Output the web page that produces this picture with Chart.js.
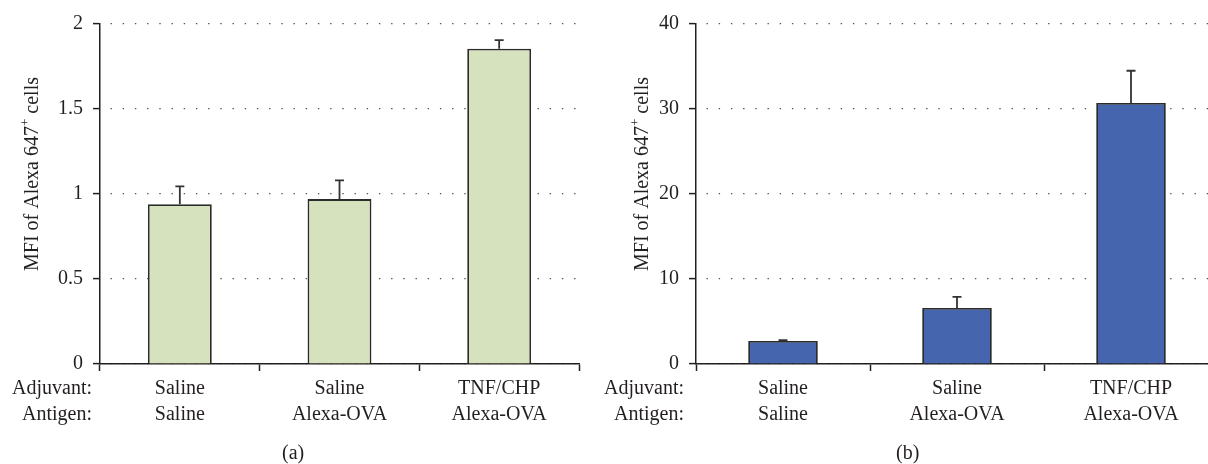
<!DOCTYPE html>
<html>
<head>
<meta charset="utf-8">
<script src="https://cdn.jsdelivr.net/npm/chart.js@4/dist/chart.umd.min.js"></script>
<style>
  html, body { margin: 0; padding: 0; background: #fff; overflow: hidden; width: 1208px; height: 464px; }
  canvas { position: absolute; top: 0; }
  #chartA { left: 0; }
  #chartB { left: 600px; }
  .caption { position: absolute; top: 441px; font: 20px "Liberation Serif", serif; color: #231f20; }
</style>
</head>
<body>
<canvas id="chartA" width="600" height="464"></canvas>
<canvas id="chartB" width="620" height="464"></canvas>
<div class="caption" style="left:282px">(a)</div>
<div class="caption" style="left:896px">(b)</div>
<script>
// categories (two label rows)
const adjuvants = ['Saline', 'Saline', 'TNF/CHP'];
const antigens = ['Saline', 'Alexa-OVA', 'Alexa-OVA'];
const rowNames = ['Adjuvant:', 'Antigen:'];

// panel (a)
const valuesA = [0.94, 0.97, 1.855];
const errorsA = [0.105, 0.11, 0.05];
const ticksA = [0, 0.5, 1, 1.5, 2];

// panel (b)
const valuesB = [2.7, 6.6, 30.7];
const errorsB = [0.12, 1.3, 3.8];
const ticksB = [0, 10, 20, 30, 40];

const INK = '#231f20';
const FONT = '"Liberation Serif", "Times New Roman", serif';
const FS = 20;
const LINE_H = 26;

const labels = adjuvants.map((a, i) => [a, antigens[i]]);

// upper error bars + row names + y title
const extrasPlugin = {
    id: 'extras',
    afterDatasetsDraw(chart, args, opts) {
        const ctx = chart.ctx;
        const y = chart.scales.y;
        const meta = chart.getDatasetMeta(0);
        ctx.save();
        ctx.strokeStyle = '#333';
        ctx.lineWidth = 1.8;
        meta.data.forEach((bar, i) => {
            const top = y.getPixelForValue(opts.values[i] + opts.errors[i]);
            ctx.beginPath();
            ctx.moveTo(bar.x, bar.y);
            ctx.lineTo(bar.x, top);
            ctx.moveTo(bar.x - 4.5, top);
            ctx.lineTo(bar.x + 4.5, top);
            ctx.stroke();
        });
        ctx.restore();
    },
    afterDraw(chart, args, opts) {
        const ctx = chart.ctx;
        const x = chart.scales.x;
        ctx.save();
        ctx.fillStyle = INK;
        ctx.font = FS + 'px ' + FONT;
        ctx.textAlign = 'right';
        ctx.textBaseline = 'middle';
        const firstY = x.top + 7 + 5 + LINE_H / 2;
        rowNames.forEach((name, i) => {
            ctx.fillText(name, opts.rowX, firstY + i * LINE_H);
        });

        // rotated axis title with superscript plus
        ctx.translate(opts.titleX, opts.titleY);
        ctx.rotate(-Math.PI / 2);
        ctx.textBaseline = 'middle';
        ctx.textAlign = 'left';
        const p1 = 'MFI of Alexa 647';
        const p2 = ' cells';
        ctx.font = FS + 'px ' + FONT;
        const w1 = ctx.measureText(p1).width;
        const w3 = ctx.measureText(p2).width;
        ctx.font = Math.round(FS * 0.65) + 'px ' + FONT;
        const w2 = ctx.measureText('+').width;
        let sx = -(w1 + w2 + w3) / 2;
        ctx.font = FS + 'px ' + FONT;
        ctx.fillText(p1, sx, 0);
        sx += w1;
        ctx.font = Math.round(FS * 0.65) + 'px ' + FONT;
        ctx.fillText('+', sx, -7);
        sx += w2;
        ctx.font = FS + 'px ' + FONT;
        ctx.fillText(p2, sx, 0);
        ctx.restore();
    }
};

function makeChart(id, values, errors, yTicks, fill, opts) {
    const ctx = document.getElementById(id).getContext('2d');
    return new Chart(ctx, {
        type: 'bar',
        data: {
            labels: labels,
            datasets: [{
                data: values,
                backgroundColor: fill,
                borderColor: '#2b2b2b',
                borderWidth: 1.8,
                borderSkipped: 'bottom',
                categoryPercentage: 1,
                barPercentage: 0.4
            }]
        },
        options: {
            responsive: false,
            animation: false,
            layout: {
                padding: { top: 24, right: opts.padRight, bottom: 0, left: 0 }
            },
            plugins: {
                legend: { display: false },
                tooltip: { enabled: false },
                extras: { values: values, errors: errors, rowX: opts.rowX, titleX: opts.titleX, titleY: 174 }
            },
            scales: {
                x: {
                    afterFit: s => { s.height = 100; },
                    grid: {
                        offset: true,
                        drawOnChartArea: false,
                        drawTicks: true,
                        tickLength: 7,
                        tickColor: INK,
                        tickWidth: 1.5
                    },
                    border: { color: INK, width: 1.5 },
                    ticks: {
                        color: INK,
                        padding: 5,
                        font: { family: FONT, size: FS, lineHeight: LINE_H / FS },
                        maxRotation: 0,
                        autoSkip: false
                    }
                },
                y: {
                    min: yTicks[0],
                    max: yTicks[yTicks.length - 1],
                    afterFit: s => { s.width = opts.axisW; },
                    afterBuildTicks: s => { s.ticks = yTicks.map(v => ({ value: v })); },
                    grid: {
                        color: '#555',
                        lineWidth: 1.2,
                        tickLength: 7,
                        tickColor: INK,
                        tickWidth: 1.5,
                        tickBorderDash: []
                    },
                    border: { color: INK, width: 1.5, dash: [1.4, 10.8], dashOffset: -10 },
                    ticks: {
                        color: INK,
                        padding: 10,
                        font: { family: FONT, size: FS },
                        callback: v => String(v)
                    }
                }
            }
        },
        plugins: [extrasPlugin]
    });
}

makeChart('chartA', valuesA, errorsA, ticksA, '#d6e1bd',
    { padRight: 21, axisW: 100, rowX: 92, titleX: 33 });
makeChart('chartB', valuesB, errorsB, ticksB, '#4565ae',
    { padRight: 2, axisW: 96, rowX: 84, titleX: 43 });
</script>
</body>
</html>
